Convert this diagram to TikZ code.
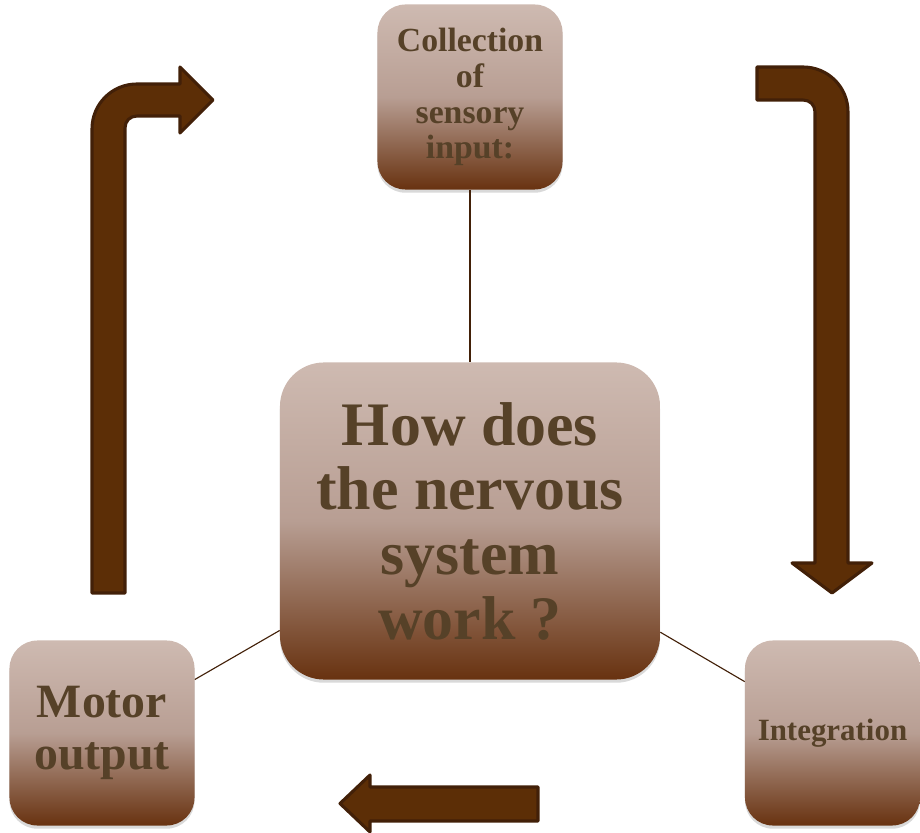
\documentclass[tikz,border=0pt]{standalone}
\usepackage{fontspec}
\setmainfont{Liberation Serif}
\usepackage{tikz}
\usetikzlibrary{shadows}
\definecolor{boxtop}{RGB}{206,186,177}
\definecolor{boxmid}{RGB}{184,158,147}
\definecolor{boxbot}{RGB}{104,50,16}
\definecolor{boxtext}{RGB}{86,65,40}
\definecolor{arrowfill}{RGB}{92,46,6}
\definecolor{arrowline}{RGB}{66,32,8}
\tikzstyle{leaf}       = [rectangle, rounded corners=0.7cm, minimum width=4.625cm, minimum height=4.625cm, inner sep=0pt, align=center, text=boxtext, top color=boxtop, bottom color=boxbot, middle color=boxmid, drop shadow={opacity=0.3, shadow xshift=0pt, shadow yshift=-0.08cm}]
\tikzstyle{hub}        = [leaf, rounded corners=1.1cm, minimum width=9.5cm, minimum height=7.925cm]
\tikzstyle{link}       = [draw=arrowline, line width=0.8pt]
\tikzstyle{blockarrow} = [fill=arrowfill, draw=arrowline, line width=2.2pt, line join=round]

\begin{document}
\begin{tikzpicture}[x=0.025cm, y=-0.025cm]
        \useasboundingbox (0,0) rectangle (920,833);

        % the cycle arrows
        \draw[blockarrow] (92,593) -- (92,129) .. controls (92,104) and (112,84) .. (137,84) -- (180,84) -- (180,67) -- (213,100) -- (180,133) -- (180,116) -- (137,116) .. controls (130,116) and (125,121) .. (125,128) -- (125,593) -- cycle;
        \draw[blockarrow] (757,67) -- (803,67) .. controls (828,67) and (848,87) .. (848,112) -- (848,563) -- (872,563) -- (832,593) -- (792,563) -- (815,563) -- (815,112) .. controls (815,105) and (810,100) .. (803,100) -- (757,100) -- cycle;
        \draw[blockarrow] (538,787) -- (370,787) -- (370,775) -- (340,803.5) -- (370,832) -- (370,821) -- (538,821) -- cycle;

        % boxes
        \node[hub] (hub) at (470,521) [font=\bfseries\fontsize{44}{46}\selectfont] {How does\\the nervous\\system\\work ?};
        \node[leaf] (input) at (470,97) [font=\bfseries\fontsize{24}{25.5}\selectfont] {Collection\\of\\sensory\\input:};
        \node[leaf] (motor) at (102,733) [font=\bfseries\fontsize{34}{37}\selectfont] {Motor\\output};
        \node[leaf, minimum width=4.375cm] (integ) at (832.5,733) [font=\bfseries\fontsize{22}{24}\selectfont] {Integration};

        \draw[link] (input) -- (hub);
        \draw[link] (motor) -- (hub);
        \draw[link] (integ) -- (hub);
    \end{tikzpicture}
\end{document}
